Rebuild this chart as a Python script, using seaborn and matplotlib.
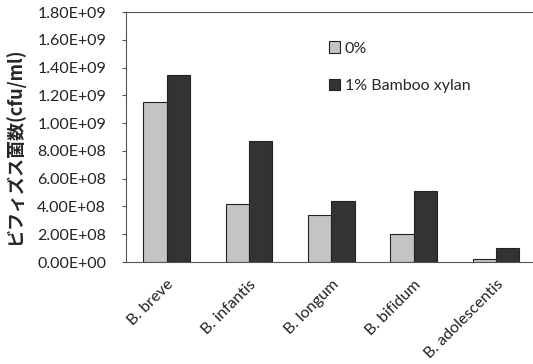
import pandas as pd
import seaborn as sns
import matplotlib.pyplot as plt

# bacterial counts (cfu/ml)
species = ['B. breve', 'B. infantis', 'B. longum', 'B. bifidum', 'B. adolescentis']
control = [1.15e9, 4.15e8, 3.4e8, 2.0e8, 2.0e7]
xylan = [1.345e9, 8.7e8, 4.37e8, 5.13e8, 1.03e8]
series_names = ['0%', '1% Bamboo xylan']
y_ticks = [0, 2e8, 4e8, 6e8, 8e8, 1e9, 1.2e9, 1.4e9, 1.6e9, 1.8e9]

df = pd.DataFrame({'species': species * 2,
                   'count': control + xylan,
                   'group': [series_names[0]] * 5 + [series_names[1]] * 5})

sns.set_style('white')
plt.rcParams['font.family'] = ['Lato', 'Noto Sans CJK JP', 'DejaVu Sans']

fig = plt.figure(figsize=(5.33, 3.64), dpi=100)
ax = fig.add_axes([0.2355, 0.2802, 0.7645, 0.6868])

sns.barplot(data=df, x='species', y='count', hue='group',
            palette=['#c4c4c4', '#333333'], width=0.567, gap=0,
            edgecolor='#222222', linewidth=0.8, ax=ax)

ax.set_xlim(-0.5, 4.451)
ax.set_ylim(0, 1.8e9)
ax.set_yticks(y_ticks)
ax.set_yticklabels([f'{v:.2E}' for v in y_ticks], fontsize=11.5, color='#222222')
ax.tick_params(axis='y', direction='out', length=3, width=0.8, left=True,
               color='#555555', pad=11)
ax.tick_params(axis='x', length=0, pad=11)
ax.set_xticks(range(len(species)))
ax.set_xticklabels(species, rotation=45, ha='right', rotation_mode='anchor',
                   fontsize=11.5, color='#222222')
ax.set_xlabel('')
ax.set_ylabel('ビフィズス菌数(cfu/ml)', fontsize=13, fontweight='bold',
              family=['Noto Sans CJK JP', 'DejaVu Sans'])
ax.yaxis.set_label_coords(-0.25, 0.464)

for side in ['left', 'bottom', 'top']:
    ax.spines[side].set_color('#555555')
    ax.spines[side].set_linewidth(0.8)
ax.spines['right'].set_visible(False)

leg = ax.legend(loc='upper left', bbox_to_anchor=(0.463, 0.94), frameon=False,
                fontsize=11.5, handlelength=0.7, handleheight=0.7,
                handletextpad=0.3, labelspacing=1.45)

fig.savefig('out.png', dpi=100)
